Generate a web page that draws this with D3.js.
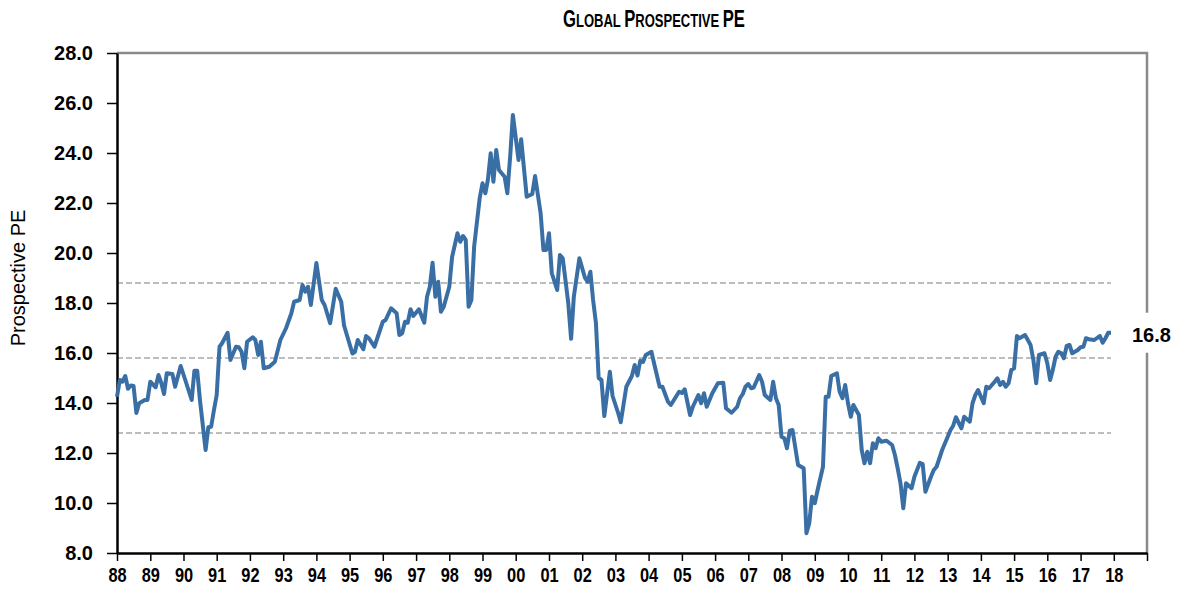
<!DOCTYPE html>
<html>
<head>
<meta charset="utf-8">
<script src="https://cdn.jsdelivr.net/npm/d3@7"></script>
<style>
  body { margin: 0; background: #fff; }
  text { font-family: "Liberation Sans", Arial, sans-serif; }
</style>
</head>
<body>
<script>
// chart frame
var width = 1178,
	height = 593;

// month of each reading, one line per year
var months = [
	"1988-01","1988-02","1988-03","1988-04","1988-05","1988-06","1988-07","1988-08","1988-09","1988-11","1988-12",
	"1989-01","1989-03","1989-04","1989-05","1989-06","1989-07","1989-09","1989-10","1989-12",
	"1990-02","1990-04","1990-05","1990-06","1990-07","1990-09","1990-10","1990-11","1990-12",
	"1991-01","1991-02","1991-03","1991-05","1991-06","1991-08","1991-09","1991-10","1991-11","1991-12",
	"1992-02","1992-03","1992-04","1992-05","1992-06","1992-08","1992-10","1992-12",
	"1993-02","1993-04","1993-05","1993-07","1993-08","1993-09","1993-10","1993-11",
	"1994-01","1994-03","1994-04","1994-06","1994-08","1994-10","1994-11",
	"1995-02","1995-03","1995-04","1995-06","1995-07","1995-08","1995-10",
	"1996-01","1996-02","1996-04","1996-06","1996-07","1996-08","1996-09","1996-10","1996-11","1996-12",
	"1997-02","1997-04","1997-05","1997-06","1997-07","1997-08","1997-09","1997-10","1997-11",
	"1998-01","1998-02","1998-04","1998-05","1998-06","1998-07","1998-08","1998-09","1998-10","1998-12",
	"1999-01","1999-02","1999-03","1999-04","1999-05","1999-06","1999-07","1999-09","1999-10","1999-11","1999-12",
	"2000-02","2000-03","2000-05","2000-07","2000-08","2000-10","2000-11","2000-12",
	"2001-01","2001-02","2001-04","2001-05","2001-06","2001-07","2001-08","2001-09","2001-10","2001-12",
	"2002-02","2002-03","2002-04","2002-05","2002-06","2002-07","2002-08","2002-09","2002-11","2002-12",
	"2003-02","2003-03","2003-05","2003-07","2003-08","2003-09","2003-10","2003-11","2003-12",
	"2004-02","2004-03","2004-05","2004-06","2004-08","2004-09","2004-12",
	"2005-01","2005-02","2005-04","2005-05","2005-07","2005-08","2005-09","2005-10","2005-12",
	"2006-02","2006-04","2006-05","2006-07","2006-09","2006-10","2006-11","2006-12",
	"2007-01","2007-02","2007-03","2007-05","2007-06","2007-07","2007-09","2007-10","2007-11","2007-12",
	"2008-01","2008-02","2008-03","2008-04","2008-05","2008-07","2008-09","2008-10","2008-11","2008-12",
	"2009-01","2009-02","2009-04","2009-05","2009-06","2009-07","2009-09","2009-10","2009-11","2009-12",
	"2010-01","2010-02","2010-03","2010-05","2010-06","2010-07","2010-08","2010-09","2010-10","2010-11","2010-12",
	"2011-01","2011-03","2011-05","2011-06","2011-07","2011-08","2011-09","2011-10","2011-12",
	"2012-01","2012-03","2012-04","2012-05","2012-07","2012-08","2012-09","2012-11",
	"2013-01","2013-02","2013-03","2013-04","2013-06","2013-07","2013-09","2013-10","2013-11","2013-12",
	"2014-02","2014-03","2014-04","2014-06","2014-07","2014-08","2014-09","2014-10","2014-11","2014-12",
	"2015-01","2015-02","2015-03","2015-05","2015-06","2015-07","2015-08","2015-09","2015-10","2015-12",
	"2016-01","2016-02","2016-03","2016-04","2016-05","2016-06","2016-07","2016-08","2016-09","2016-10","2016-12",
	"2017-01","2017-02","2017-03","2017-04","2017-06","2017-07","2017-08","2017-09","2017-10","2017-11","2017-12"
];

// prospective PE, same order as months
var pe = [
	14.25,14.92,14.85,15.08,14.57,14.70,14.68,13.60,13.99,14.12,14.12,
	14.85,14.63,15.12,14.81,14.36,15.19,15.16,14.65,15.48,
	14.79,14.12,15.29,15.29,14.12,12.12,13.03,13.05,13.70,
	14.32,16.25,16.39,16.81,15.72,16.25,16.23,16.05,15.39,16.45,
	16.63,16.52,15.92,16.45,15.39,15.45,15.65,16.52,
	16.99,17.59,18.05,18.12,18.72,18.45,18.65,17.92,
	19.60,18.12,17.92,17.19,18.57,18.05,17.10,
	15.98,16.05,16.52,16.15,16.68,16.59,16.25,
	17.25,17.32,17.79,17.59,16.72,16.79,17.25,17.21,17.75,17.48,
	17.75,17.21,18.25,18.65,19.61,18.25,18.85,17.65,17.85,
	18.65,19.85,20.79,20.45,20.68,20.52,17.85,18.12,20.25,22.19,
	22.79,22.39,22.92,23.99,22.85,24.12,23.32,23.05,22.39,23.85,25.52,
	23.72,24.55,22.25,22.36,23.08,21.59,20.12,20.12,
	20.79,19.19,18.52,19.92,19.79,18.92,17.99,16.57,18.25,19.79,
	19.00,18.85,19.25,18.12,17.20,15.00,14.92,13.48,15.25,14.28,
	13.59,13.23,14.65,15.08,15.52,15.10,15.69,15.64,15.92,
	16.05,15.59,14.65,14.65,14.05,13.92,14.45,
	14.40,14.55,13.52,13.85,14.32,13.99,14.39,13.85,14.39,
	14.79,14.81,13.79,13.61,13.85,14.19,14.36,14.65,
	14.76,14.59,14.62,15.12,14.85,14.32,14.12,14.85,14.19,13.92,
	12.65,12.59,12.19,12.89,12.92,11.52,11.39,8.79,9.19,10.25,
	9.99,10.52,11.45,14.25,14.25,15.08,15.19,14.45,14.19,14.72,
	13.99,13.45,13.92,13.52,12.12,11.59,12.05,11.59,12.39,12.19,12.59,
	12.45,12.49,12.32,11.92,11.39,10.79,9.79,10.79,10.59,
	11.05,11.61,11.56,10.45,11.05,11.32,11.45,12.12,
	12.65,12.92,13.08,13.43,12.99,13.45,13.25,13.99,14.32,14.52,
	13.99,14.65,14.59,14.85,14.99,14.72,14.85,14.65,14.79,15.32,
	15.39,16.68,16.59,16.72,16.52,16.32,15.72,14.79,15.92,15.99,
	15.59,14.92,15.32,15.85,16.05,16.00,15.79,16.28,16.32,15.99,16.12,
	16.23,16.25,16.59,16.55,16.52,16.60,16.68,16.41,16.59,16.81,16.81
];

// average and +/- one standard deviation
var bandLevels = [18.8, 15.8, 12.8];

// year ticks, the last one carries no label
var tickYears = d3.range(1988, 2020);
var yTicks = d3.range(8, 29, 2);

var parseMonth = d3.timeParse("%Y-%m");
var data = months.map(function(m, i) { return { date: parseMonth(m), value: pe[i] }; });

var x = d3.scaleTime()
	.domain([new Date(1988, 0, 1), new Date(2019, 0, 1)])
	.range([117, 1147]);

var y = d3.scaleLinear()
	.domain([8, 28])
	.range([553, 53]);

var svg = d3.select("body")
	.append("svg")
	.attr("width", width)
	.attr("height", height);

// title in small caps, then squeezed sideways to the width of the original
var title = svg.append("text")
	.attr("text-anchor", "middle")
	.style("font-weight", "bold")
	.style("fill", "#000");
[["G", 23], ["LOBAL ", 18], ["P", 23], ["ROSPECTIVE ", 18], ["PE", 23]].forEach(function(p) {
	title.append("tspan").style("font-size", p[1] + "px").text(p[0]);
});
var titleW = title.node().getComputedTextLength();
title.attr("transform", "translate(654,27) scale(" + (182 / titleW) + ",1)");

// grey frame on top and right
svg.append("path")
	.attr("d", "M" + x.range()[0] + "," + y(28) + "H" + x.range()[1] + "V" + y(8))
	.attr("fill", "none")
	.attr("stroke", "#8a8a8a")
	.attr("stroke-width", 2.5);

// dashed average / std lines across the data span
svg.selectAll(".band")
	.data(bandLevels)
	.enter().append("line")
	.attr("class", "band")
	.attr("x1", x(data[0].date))
	.attr("x2", x(data[data.length - 1].date))
	.attr("y1", function(d) { return y(d); })
	.attr("y2", function(d) { return y(d); })
	.attr("stroke", "#bdbdbd")
	.attr("stroke-width", 2)
	.attr("stroke-dasharray", "6,3");

// y axis
var yAxis = svg.append("g")
	.attr("transform", "translate(" + x.range()[0] + ",0)")
	.call(d3.axisLeft(y).tickValues(yTicks).tickFormat(d3.format(".1f")).tickSize(10).tickSizeOuter(0).tickPadding(14));
yAxis.select(".domain").attr("stroke", "#000").attr("stroke-width", 2.5);
yAxis.selectAll(".tick line").attr("stroke", "#000").attr("stroke-width", 1.5);
yAxis.selectAll(".tick text")
	.style("font-size", "20px")
	.style("font-weight", "bold")
	.attr("fill", "#000");

// x axis, narrow labels
var xAxis = svg.append("g")
	.attr("transform", "translate(0," + y.range()[0] + ")")
	.call(d3.axisBottom(x)
		.tickValues(tickYears.map(function(yr) { return new Date(yr, 0, 1); }))
		.tickFormat(function(d) { return d.getFullYear() < 2019 ? d3.timeFormat("%y")(d) : ""; })
		.tickSize(8).tickSizeOuter(0).tickPadding(7));
xAxis.select(".domain").attr("stroke", "#000").attr("stroke-width", 2.5);
xAxis.selectAll(".tick line").attr("stroke", "#000").attr("stroke-width", 1.5);
xAxis.selectAll(".tick text")
	.attr("transform", "scale(0.82,1)")
	.style("font-size", "20px")
	.style("font-weight", "bold")
	.attr("fill", "#000");

// y axis title
svg.append("text")
	.attr("transform", "translate(25," + y(19) + ") rotate(-90)")
	.attr("text-anchor", "middle")
	.style("font-size", "20px")
	.style("fill", "#000")
	.text("Prospective PE");

// the PE line
var line = d3.line()
	.x(function(d) { return x(d.date); })
	.y(function(d) { return y(d.value); });

svg.append("path")
	.datum(data)
	.attr("d", line)
	.attr("fill", "none")
	.attr("stroke", "#3a6fa6")
	.attr("stroke-width", 4)
	.attr("stroke-linejoin", "round");

// last value label, sitting over the right frame
var last = data[data.length - 1];
svg.append("rect")
	.attr("x", 1135)
	.attr("y", y(last.value) - 20)
	.attr("width", 43)
	.attr("height", 40)
	.attr("fill", "#fff");
svg.append("text")
	.attr("x", 1132)
	.attr("y", y(last.value) + 9)
	.style("font-size", "20px")
	.style("font-weight", "bold")
	.style("fill", "#000")
	.text(d3.format(".1f")(last.value));
</script>
</body>
</html>
